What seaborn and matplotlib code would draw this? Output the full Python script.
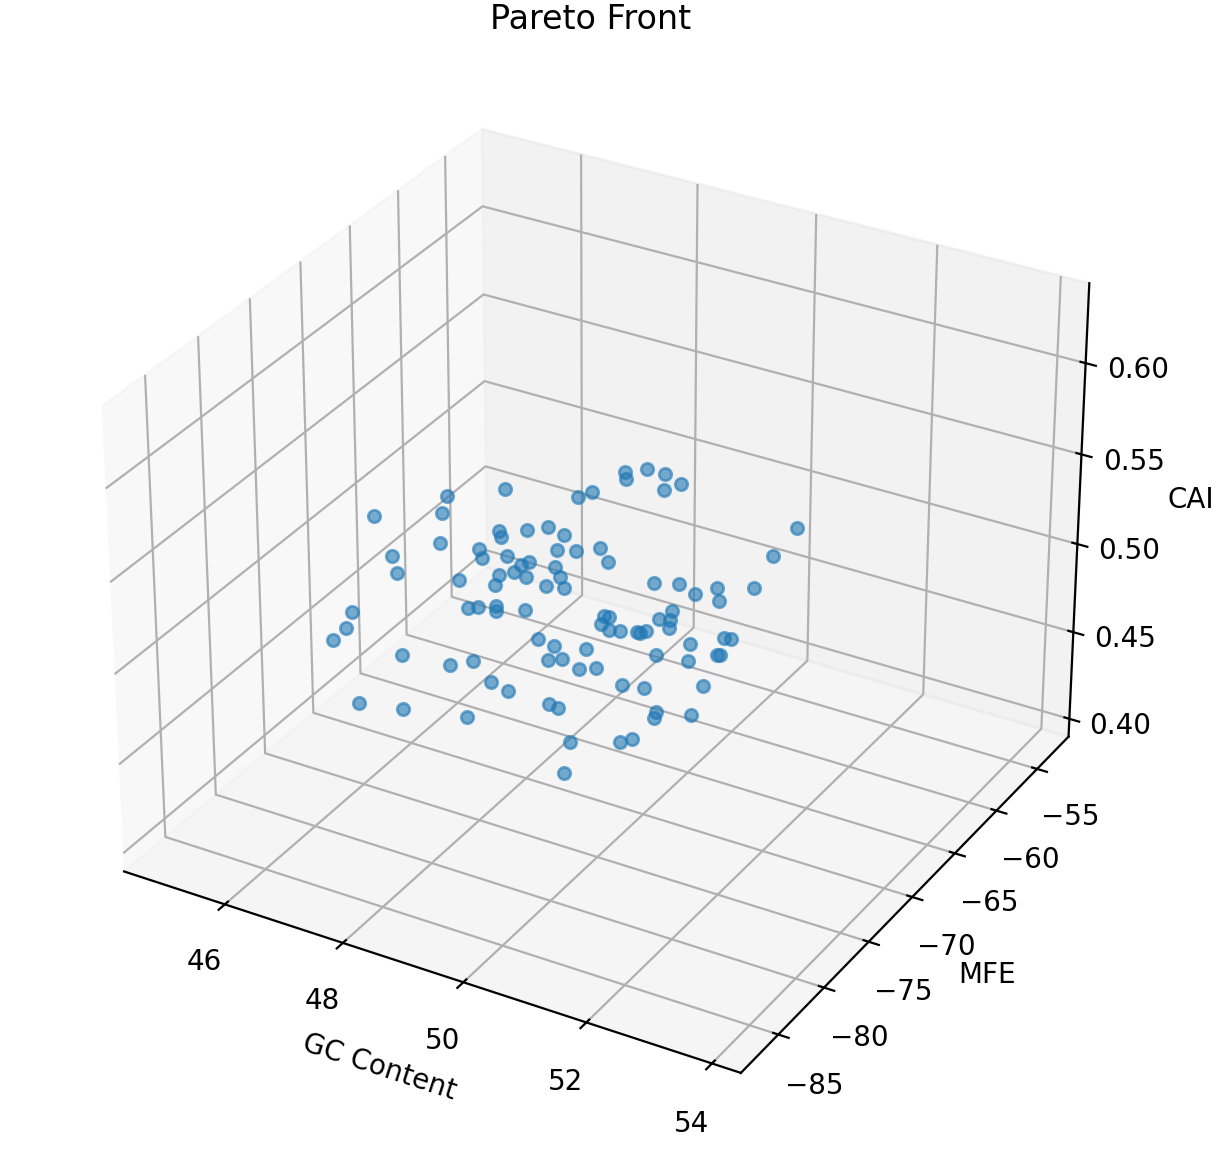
import pandas as pd
import matplotlib
matplotlib.use('Agg')
import matplotlib.pyplot as plt
import seaborn as sns

# ── Pareto front values ──────────────────────────────────
gc_content = [44.91,44.92,44.90,45.47,44.91,44.91,44.91,45.27,45.34,46.24,46.96,47.47,44.91,44.90,45.53,47.24,44.91,45.24,45.10,45.77,46.03,46.30,47.17,47.33,46.19,
              46.86,47.47,44.91,44.91,44.91,45.07,45.19,45.45,45.53,46.16,44.94,45.73,45.97,46.57,47.11,46.95,47.39,46.54,46.87,45.15,45.78,46.75,47.60,47.78,48.43,
              48.80,49.40,49.43,50.09,50.63,50.60,51.10,47.94,48.39,53.74,53.67,47.87,48.63,48.89,50.31,51.04,51.53,52.16,52.21,53.17,48.74,48.93,48.66,48.93,49.26,
              49.80,49.89,50.07,50.46,50.84,50.79,50.76,52.37,52.57,51.37,50.39,51.33,52.19,52.24,48.17,48.50,47.96,49.33,50.03,51.77,50.38,50.31,51.41,49.27,49.64]
mfe = [-67.0,-59.3,-59.8,-56.4,-60.1,-65.2,-64.7,-55.8,-56.0,-58.7,-60.9,-62.4,-55.8,-55.5,-56.6,-61.7,-58.1,-55.7,-55.3,-57.3,-58.1,-58.9,-61.5,-62.0,-58.6,
       -60.6,-62.4,-69.5,-70.1,-71.5,-58.1,-57.8,-57.3,-57.8,-58.5,-64.5,-64.1,-63.1,-59.7,-61.3,-60.9,-62.2,-64.7,-64.9,-70.4,-69.5,-68.6,-65.0,-65.1,-67.9,
       -70.9,-68.2,-68.3,-70.3,-71.9,-71.8,-73.3,-63.8,-65.2,-78.9,-81.0,-63.6,-65.9,-66.7,-70.9,-73.1,-74.6,-76.5,-76.6,-79.5,-66.2,-66.8,-66.0,-66.8,-67.8,
       -69.4,-69.7,-70.2,-71.4,-72.5,-72.4,-72.3,-77.1,-77.7,-74.1,-71.2,-74.0,-76.6,-76.7,-64.5,-65.5,-63.9,-68.0,-70.1,-75.3,-71.1,-70.9,-74.2,-67.8,-68.9]
cai = [0.496,0.474,0.466,0.471,0.450,0.465,0.453,0.442,0.440,0.464,0.482,0.489,0.428,0.421,0.433,0.475,0.420,0.415,0.406,0.429,0.439,0.447,0.464,0.462,0.436,
       0.446,0.459,0.452,0.446,0.445,0.405,0.405,0.406,0.406,0.416,0.405,0.405,0.405,0.408,0.417,0.405,0.416,0.406,0.405,0.406,0.405,0.406,0.405,0.405,0.405,
       0.405,0.567,0.564,0.584,0.593,0.584,0.598,0.521,0.534,0.624,0.618,0.489,0.508,0.506,0.527,0.543,0.549,0.567,0.561,0.590,0.472,0.476,0.466,0.469,0.476,
       0.488,0.490,0.495,0.511,0.524,0.518,0.513,0.545,0.549,0.518,0.489,0.508,0.532,0.533,0.440,0.437,0.424,0.447,0.462,0.505,0.457,0.452,0.480,0.413,0.424]

front = pd.DataFrame({'GC Content': gc_content, 'MFE': mfe, 'CAI': cai})

# ── Plot ─────────────────────────────────────────────────
W, H = 1223, 1150
dpi = 200
side = 1098
cx, cy = 590.2, 593.2
fig = plt.figure(figsize=(W/dpi, H/dpi), dpi=dpi)
ax = fig.add_axes([(cx-side/2)/W, (H-cy-side/2)/H, side/W, side/H], projection='3d')

color = sns.color_palette('tab10')[0]
ax.scatter(front['GC Content'], front['MFE'], front['CAI'], s=20, alpha=0.6, depthshade=False, color=color)

ax.set_xlim(44.26, 54.455, view_margin=0)
ax.set_ylim(-89, -51.05, view_margin=0)
ax.set_zlim(0.3896, 0.6431, view_margin=0)
ax.set_xlabel('GC Content')
ax.set_ylabel('MFE')
ax.set_zlabel('CAI')
ax.set_title('Pareto Front', pad=5.3)

fig.savefig('out.png', dpi=dpi)
plt.close(fig)
